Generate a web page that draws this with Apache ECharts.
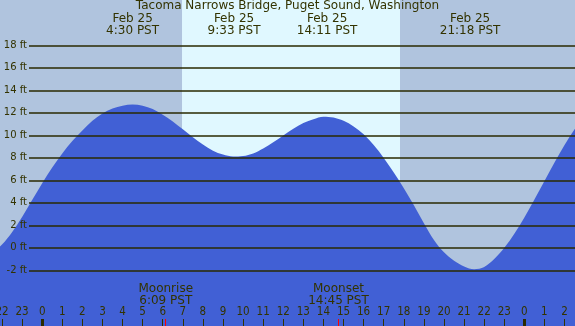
<!DOCTYPE html>
<html>
<head>
    <meta charset="utf-8">
    <title>Tacoma Narrows Bridge tides</title>
    <script src="https://cdn.jsdelivr.net/npm/echarts@6/dist/echarts.min.js"></script>
    <style>
        html, body { margin: 0; padding: 0; }
    </style>
</head>
<body>
<div id="main" style="width: 575px;height:326px;"></div>
<script type="text/javascript">
    // tide height (ft) every half hour, hours from Feb 25 0:00 PST
    var tideHours = [-3, -2.5, -2, -1.5, -1, -0.5, 0, 0.5, 1, 1.5, 2, 2.5, 3, 3.5, 4, 4.5, 5, 5.5, 6, 6.5, 7, 7.5, 8, 8.5, 9, 9.5, 10, 10.5, 11, 11.5, 12, 12.5, 13, 13.5, 14, 14.5, 15, 15.5, 16, 16.5, 17, 17.5, 18, 18.5, 19, 19.5, 20, 20.5, 21, 21.5, 22, 22.5, 23, 23.5, 24, 24.5, 25, 25.5, 26, 26.5, 27];
    var tideFeet = [-1.1, -0.55, 0.25, 1.35, 2.7, 4.2, 5.7, 7.1, 8.35, 9.45, 10.4, 11.25, 11.9, 12.35, 12.6, 12.7, 12.6, 12.3, 11.8, 11.2, 10.5, 9.8, 9.15, 8.6, 8.25, 8.08, 8.12, 8.35, 8.8, 9.35, 9.95, 10.55, 11.05, 11.4, 11.62, 11.55, 11.25, 10.75, 10.05, 9.1, 7.95, 6.65, 5.25, 3.75, 2.15, 0.65, -0.45, -1.2, -1.7, -1.95, -1.75, -1.05, -0.05, 1.2, 2.65, 4.25, 5.9, 7.55, 9.1, 10.5, 11.7];

    // high / low water
    var extremeHours = [4.5, 9.55, 14.183, 21.3];
    var extremeTimes = ['4:30', '9:33', '14:11', '21:18'];

    var sunrise = 6.96, sunset = 17.81;
    var moonHours = [6.15, 14.75];
    var moonNames = ['Moonrise', 'Moonset'];
    var moonTimes = ['6:09', '14:45'];
    var midnights = [0, 24];

    var ftTicks = { min: -2, max: 18, step: 2 };

    var ink = '#333300';
    var font = 'DejaVu Sans';

    var tideData = tideHours.map(function (h, i) { return [h, tideFeet[i]]; });

    var myChart = echarts.init(document.getElementById('main'));

    var option = {
        animation: false,
        backgroundColor: '#b0c4de',
        title: {
            text: 'Tacoma Narrows Bridge, Puget Sound, Washington',
            left: 'center',
            top: 0,
            padding: 0,
            textStyle: { fontSize: 12, fontWeight: 'normal', color: ink, fontFamily: font }
        },
        grid: [
            { left: 0, right: 0, top: 0, bottom: 0, outerBoundsMode: 'none' },
            { left: 29, right: 0, top: 45.3, bottom: 55.7, outerBoundsMode: 'none' },
            { left: 2.02, right: 10.5, top: 0, bottom: 0, outerBoundsMode: 'none' }
        ],
        xAxis: [
            { gridIndex: 0, type: 'value', min: -2.1, max: 26.52, show: false },
            { gridIndex: 1, type: 'value', min: 0, max: 1, show: false },
            {   // hour ticks
                gridIndex: 2, type: 'value', min: -2, max: 26, interval: 1, position: 'bottom', z: 5,
                axisLine: { show: false },
                splitLine: { show: false },
                axisTick: { inside: true, length: 7, lineStyle: { color: ink, width: 1 } },
                axisLabel: {
                    inside: true, margin: 8, fontSize: 11.5, color: ink,
                    fontFamily: 'DejaVu Sans Condensed, DejaVu Sans',
                    alignMinLabel: 'center', alignMaxLabel: 'center',
                    formatter: function (v) { return ((v % 24) + 24) % 24; }
                }
            },
            {   // midnight marks
                gridIndex: 2, type: 'value', min: -2, max: 26, position: 'bottom', z: 6,
                axisLine: { show: false },
                splitLine: { show: false },
                axisLabel: { show: false },
                axisTick: { inside: true, length: 7, customValues: midnights, lineStyle: { color: '#2a2a00', width: 3 } }
            },
            {   // moon rise / set
                gridIndex: 2, type: 'value', min: -2, max: 26, position: 'bottom', z: 6,
                axisLine: { show: false },
                splitLine: { show: false },
                axisTick: { inside: true, length: 7, customValues: moonHours, lineStyle: { color: '#ff0000', width: 1 } },
                axisLabel: {
                    inside: true, margin: 19, customValues: moonHours, fontSize: 12, lineHeight: 12,
                    color: ink, fontFamily: font,
                    formatter: function (v) {
                        var i = moonHours.indexOf(v);
                        return moonNames[i] + '\n' + moonTimes[i] + ' PST';
                    }
                }
            },
            {   // high / low labels
                gridIndex: 2, type: 'value', min: -2, max: 26, position: 'top', z: 6,
                axisLine: { show: false },
                splitLine: { show: false },
                axisTick: { show: false },
                axisLabel: {
                    inside: true, margin: 13, customValues: extremeHours, fontSize: 12, lineHeight: 12,
                    color: ink, fontFamily: font,
                    formatter: function (v) {
                        var i = extremeHours.indexOf(v);
                        return 'Feb 25\n' + extremeTimes[i] + ' PST';
                    }
                }
            }
        ],
        yAxis: [
            { gridIndex: 0, type: 'value', min: -7, max: 22, show: false },
            {
                gridIndex: 1, type: 'value', min: ftTicks.min, max: ftTicks.max, interval: ftTicks.step, z: 4,
                axisLine: { show: false },
                axisTick: { show: false },
                splitLine: { lineStyle: { color: '#2a2a00', width: 1.5 } },
                axisLabel: { margin: 2, fontSize: 10, color: ink, fontFamily: font, formatter: '{value} ft' }
            },
            { gridIndex: 2, type: 'value', min: 0, max: 1, show: false }
        ],
        series: [
            {   // daylight band
                type: 'line',
                xAxisIndex: 0, yAxisIndex: 0,
                z: 1,
                silent: true,
                symbol: 'none',
                lineStyle: { opacity: 0 },
                data: [[sunrise, -7], [sunset, -7]],
                markArea: {
                    silent: true,
                    itemStyle: { color: '#e0f8ff' },
                    data: [[{ xAxis: sunrise }, { xAxis: sunset }]]
                }
            },
            {
                name: 'tide',
                type: 'line',
                xAxisIndex: 0, yAxisIndex: 0,
                z: 2,
                smooth: 0.33,
                symbol: 'none',
                lineStyle: { width: 0 },
                areaStyle: { color: '#4160d5', opacity: 1, origin: 'start' },
                data: tideData
            }
        ]
    };

    myChart.setOption(option);
</script>
</body>
</html>
